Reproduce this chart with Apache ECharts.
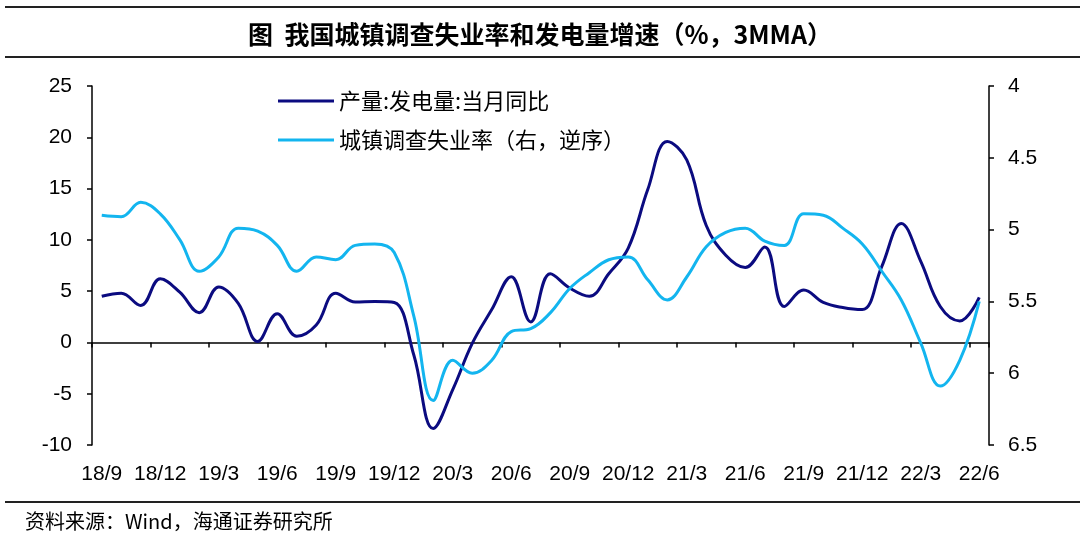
<!DOCTYPE html>
<html>
<head>
<meta charset="utf-8">
<script src="https://cdn.jsdelivr.net/npm/echarts@6/dist/echarts.min.js"></script>
<style>
html,body{margin:0;padding:0;background:#fff;}
#chart{width:1080px;height:541px;}
</style>
</head>
<body>
<div id="chart"></div>
<script>
var categories = ['18/9','18/10','18/11','18/12','19/1','19/2','19/3','19/4','19/5','19/6','19/7','19/8','19/9','19/10','19/11','19/12',
  '20/1','20/2','20/3','20/4','20/5','20/6','20/7','20/8','20/9','20/10','20/11','20/12',
  '21/1','21/2','21/3','21/4','21/5','21/6','21/7','21/8','21/9','21/10','21/11','21/12',
  '22/1','22/2','22/3','22/4','22/5','22/6'];
var powerYoY = [4.5, 4.8, 3.6, 6.2, 4.9, 2.9, 5.4, 3.8, 0.1, 2.8, 0.6, 1.7, 4.8, 3.95, 4.0, 3.9,
  -1.2, -8.4, -4.6, -0.1, 3.2, 6.4, 2.0, 6.7, 5.3, 4.5, 6.7, 9.2, 14.9, 19.6,
  17.8, 11.4, 8.5, 7.3, 9.3, 3.5, 5.1, 3.9, 3.4, 3.2, 7.4, 11.6, 7.9, 3.5, 2.1, 4.4];
var unemployment = [4.90, 4.91, 4.81, 4.89, 5.07, 5.29, 5.19, 4.99, 5.01, 5.11, 5.29, 5.19, 5.21, 5.11, 5.10, 5.16,
  5.60, 6.19, 5.91, 6.00, 5.91, 5.71, 5.69, 5.58, 5.41, 5.30, 5.21, 5.19, 5.35, 5.49,
  5.33, 5.12, 5.02, 4.99, 5.08, 5.11, 4.89, 4.90, 4.99, 5.10, 5.29, 5.49, 5.79, 6.09, 5.91, 5.50];
var leftTicks = {min: -10, max: 25, interval: 5};
var rightTicks = {min: 4, max: 6.5, interval: 0.5};
var titleText = '图  我国城镇调查失业率和发电量增速（%，3MMA）';
var sourceText = '资料来源：Wind，海通证券研究所';
var seriesNames = ['产量:发电量:当月同比', '城镇调查失业率（右，逆序）'];

var darkColor = '#0b0b80';
var lightColor = '#13b5ef';
var axisColor = '#000';
var latin = 'Liberation Sans, Arial, sans-serif';
var cjk = '"Noto Sans CJK SC", sans-serif';

var chart = echarts.init(document.getElementById('chart'));
chart.setOption({
  animation: false,
  backgroundColor: '#fff',
  title: {
    text: titleText,
    left: 'center',
    top: 17,
    textStyle: {fontFamily: cjk, fontSize: 25, fontWeight: 'bold', color: '#000'}
  },
  graphic: [
    {type: 'line', shape: {x1: 5, y1: 7, x2: 1080, y2: 7}, style: {stroke: '#222', lineWidth: 2}},
    {type: 'line', shape: {x1: 5, y1: 57, x2: 1080, y2: 57}, style: {stroke: '#222', lineWidth: 2}},
    {type: 'line', shape: {x1: 5, y1: 502, x2: 1080, y2: 502}, style: {stroke: '#222', lineWidth: 2}},
    {type: 'text', x: 25, y: 521, style: {text: sourceText, font: '20px ' + cjk, fill: '#000', textVerticalAlign: 'middle', verticalAlign: 'middle'}}
  ],
  legend: {
    orient: 'vertical',
    left: 278,
    top: 90,
    padding: 0,
    itemGap: 17,
    itemWidth: 56,
    itemHeight: 3,
    icon: 'rect',
    textStyle: {fontFamily: cjk, fontSize: 22, color: '#000', lineHeight: 22},
    data: seriesNames
  },
  grid: {left: 92, right: 91, top: 86, bottom: 96, containLabel: false},
  xAxis: [
    {
      type: 'category',
      data: categories,
      boundaryGap: true,
      axisLine: {show: true, onZero: true, lineStyle: {color: axisColor, width: 1.5}},
      axisTick: {show: true, interval: 2, length: 5, inside: false, lineStyle: {color: axisColor, width: 1.5}},
      axisLabel: {show: false},
      splitLine: {show: false}
    },
    {
      type: 'category',
      data: categories,
      boundaryGap: true,
      position: 'bottom',
      axisLine: {show: false, onZero: false},
      axisTick: {show: false},
      axisLabel: {show: true, interval: 2, margin: 19, fontFamily: latin, fontSize: 21, color: '#000'},
      splitLine: {show: false}
    }
  ],
  yAxis: [
    {
      type: 'value',
      min: leftTicks.min, max: leftTicks.max, interval: leftTicks.interval,
      position: 'left',
      axisLine: {show: true, lineStyle: {color: axisColor, width: 1.5}},
      axisTick: {show: true, length: 5, inside: false, lineStyle: {color: axisColor, width: 1.5}},
      axisLabel: {margin: 20, fontFamily: latin, fontSize: 21, color: '#000'},
      splitLine: {show: false}
    },
    {
      type: 'value',
      min: rightTicks.min, max: rightTicks.max, interval: rightTicks.interval,
      inverse: true,
      position: 'right',
      axisLine: {show: true, lineStyle: {color: axisColor, width: 1.5}},
      axisTick: {show: true, length: 5, inside: false, lineStyle: {color: axisColor, width: 1.5}},
      axisLabel: {margin: 19, fontFamily: latin, fontSize: 21, color: '#000'},
      splitLine: {show: false}
    }
  ],
  series: [
    {
      name: seriesNames[0],
      type: 'line',
      xAxisIndex: 0,
      yAxisIndex: 0,
      data: powerYoY,
      smooth: 0.4,
      showSymbol: false,
      symbol: 'none',
      lineStyle: {color: darkColor, width: 3},
      itemStyle: {color: darkColor}
    },
    {
      name: seriesNames[1],
      type: 'line',
      xAxisIndex: 0,
      yAxisIndex: 1,
      data: unemployment,
      smooth: 0.4,
      showSymbol: false,
      symbol: 'none',
      lineStyle: {color: lightColor, width: 3},
      itemStyle: {color: lightColor}
    }
  ]
});
</script>
</body>
</html>
